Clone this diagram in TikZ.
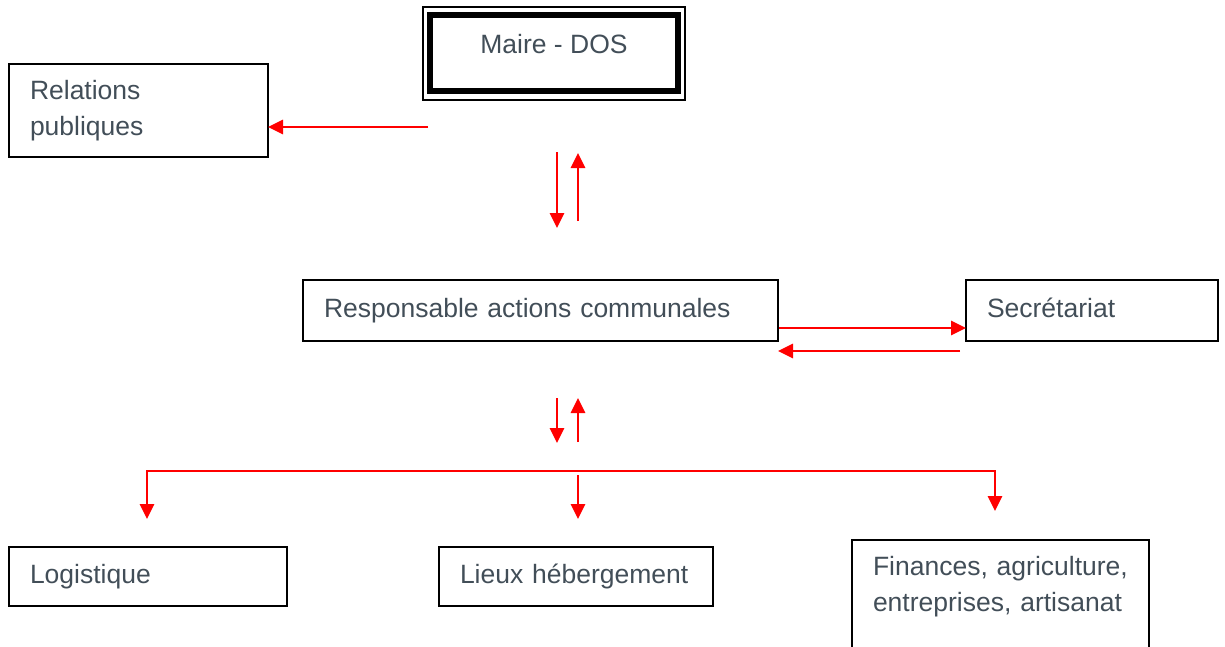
\documentclass[tikz,border=0pt]{standalone}
\usepackage{fontspec}
\setmainfont{Liberation Sans}
\usetikzlibrary{arrows.meta}

\definecolor{boxtext}{RGB}{66,78,88}

\begin{document}
\begin{tikzpicture}[x=1pt, y=-1pt,
  box/.style={draw=black, line width=1.8pt, anchor=north west, outer sep=0pt,
    inner xsep=21pt, inner ysep=0pt, align=left, text=boxtext,
    font=\fontsize{26.5}{36}\selectfont},
  oneline/.style={text height=19pt, text depth=6pt},
  link/.style={draw=red, line width=2.8pt, -{Triangle[length=15pt,width=14pt]}},
  twolink/.style={draw=red, line width=2.8pt, {Triangle[length=15pt,width=14pt]}-{Triangle[length=15pt,width=14pt]}}]

  % Frame
  \clip (0,0) rectangle (1225,646);

  % Boxes
  \node[box, line width=6.5pt, minimum width=248pt, minimum height=76pt,
    text height=19pt, text depth=19pt] (maire) at (430,15) {Maire - DOS};
  \draw[line width=1.4pt] ([shift={(-7,-8)}]maire.north west) rectangle ([shift={(7,9)}]maire.south east);
  \node[box, text width=217pt, minimum height=93pt] (relations) at (9,64) {Relations\\publiques};
  \node[box, oneline, text width=433pt, minimum height=61pt] (responsable) at (303,280) {Responsable actions communales};
  \node[box, oneline, text width=210pt, minimum height=61pt] (secretariat) at (966,280) {Secrétariat};
  \node[box, oneline, text width=236pt, minimum height=59pt] (logistique) at (9,547) {Logistique};
  \node[box, oneline, text width=232pt, minimum height=59pt] (lieux) at (439,547) {Lieux hébergement};
  \node[box, text width=255pt, minimum height=124pt] (finances) at (852,540) {Finances, agriculture,\\entreprises, artisanat\\\mbox{}};

  % Free ends
  \coordinate (pub) at (428,127);
  \coordinate (down1) at (557,152);
  \coordinate (down1end) at (557,228);
  \coordinate (up1) at (578,221);
  \coordinate (up1end) at (578,153);
  \coordinate (sec1) at (779,328);
  \coordinate (sec2) at (960,351);
  \coordinate (down2) at (557,398);
  \coordinate (down2end) at (557,443);
  \coordinate (up2) at (578,442);
  \coordinate (up2end) at (578,398);
  \coordinate (busleft) at (147,471);
  \coordinate (busright) at (995,471);
  \coordinate (busmid) at (578,475);

  % Maire - relations publiques
  \draw[link] (pub) -- (relations.east |- pub);

  % Maire - responsable
  \draw[link] (down1) -- (down1end);
  \draw[link] (up1) -- (up1end);

  % Responsable - secretariat
  \draw[link] (sec1) -- (secretariat.west |- sec1);
  \draw[link] (sec2) -- (responsable.east |- sec2);

  % Responsable - services
  \draw[link] (down2) -- (down2end);
  \draw[link] (up2) -- (up2end);
  \draw[twolink] (busleft |- 0,519) -- (busleft) -- (busright) -- (busright |- 0,511);
  \draw[link] (busmid) -- (busmid |- 0,519);

\end{tikzpicture}
\end{document}
